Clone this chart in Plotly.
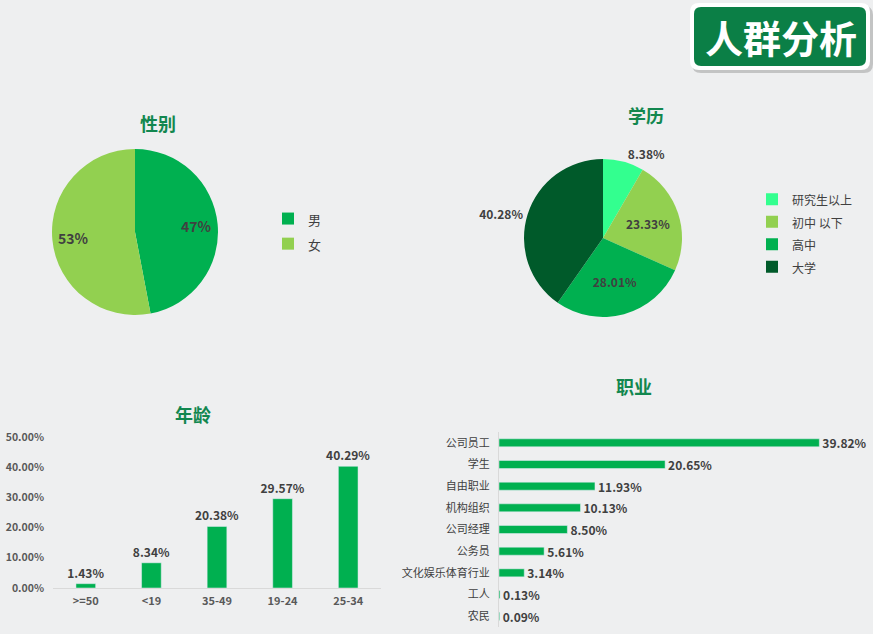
import math
import plotly.graph_objects as go

# ---------------- data ----------------
gender_labels = ["男", "女"]
gender_values = [47, 53]
gender_colors = ["#00b050", "#92d050"]

edu_labels = ["研究生以上", "初中 以下", "高中", "大学"]
edu_values = [8.38, 23.33, 28.01, 40.28]
edu_colors = ["#33ff8f", "#92d050", "#00b050", "#005a2a"]

age_cats = [">=50", "<19", "35-49", "19-24", "25-34"]
age_values = [1.43, 8.34, 20.38, 29.57, 40.29]
age_ticks = [0, 10, 20, 30, 40, 50]

job_cats = ["公司员工", "学生", "自由职业", "机构组织", "公司经理", "公务员",
            "文化娱乐体育行业", "工人", "农民"]
job_values = [39.82, 20.65, 11.93, 10.13, 8.50, 5.61, 3.14, 0.13, 0.09]

# ---------------- layout helpers ----------------
W, H = 873, 634
FONT = "Microsoft YaHei, Noto Sans CJK SC, sans-serif"
TXT = "#404040"
TITLE_GREEN = "#12874f"


def px(x):
    return x / W


def py(y):
    return 1 - y / H


def legend_label(s, size):
    return f"<span style='font-size:{size}px'>{s}</span>"


fig = go.Figure()
annotations = []

# gender pie
gcx, gcy, gr = 135, 232, 83
fig.add_trace(go.Pie(
    labels=[legend_label(s, 13) for s in gender_labels],
    values=gender_values,
    marker=dict(colors=gender_colors, line=dict(width=0)),
    sort=False, direction="clockwise", rotation=0,
    textinfo="none", automargin=False,
    domain=dict(x=[px(gcx - gr), px(gcx + gr)], y=[py(gcy + gr), py(gcy - gr)]),
    legend="legend", hoverinfo="skip",
))
# gender slice labels, placed at each slice's mid-angle
total = sum(gender_values)
cum = 0
for v in gender_values:
    mid = (cum + v / 2) / total * 2 * math.pi
    cum += v
    lx = gcx + 0.75 * gr * math.sin(mid)
    ly = gcy - 0.75 * gr * math.cos(mid)
    annotations.append(dict(text=f"<b>{v}%</b>", x=px(lx), y=py(ly), xref="paper", yref="paper",
                            xanchor="center", yanchor="middle", showarrow=False,
                            font=dict(size=14, color=TXT, family=FONT)))

# education pie
cx, cy, r = 603, 238, 79
fig.add_trace(go.Pie(
    labels=[legend_label(s, 12) for s in edu_labels],
    values=edu_values,
    marker=dict(colors=edu_colors, line=dict(width=0)),
    sort=False, direction="clockwise", rotation=0,
    texttemplate="%{value:.2f}%",
    textposition=["outside", "inside", "inside", "outside"],
    insidetextorientation="horizontal", automargin=False,
    textfont=dict(size=12, color=TXT, family=FONT, weight="bold"),
    domain=dict(x=[px(cx - r), px(cx + r)], y=[py(cy + r), py(cy - r)]),
    legend="legend2", hoverinfo="skip",
))

# age bars
fig.add_trace(go.Bar(
    x=age_cats, y=age_values, width=0.3,
    marker=dict(color="#00b050"),
    texttemplate="%{y:.2f}%", textposition="outside", cliponaxis=False,
    constraintext="none",
    textfont=dict(size=12, color=TXT, family=FONT, weight="bold"),
    xaxis="x", yaxis="y", showlegend=False, hoverinfo="skip",
))

# job bars
fig.add_trace(go.Bar(
    y=job_cats, x=job_values, orientation="h", width=0.37,
    marker=dict(color="#00b050"),
    texttemplate="%{x:.2f}%", textposition="outside", cliponaxis=False,
    constraintext="none",
    textfont=dict(size=12, color=TXT, family=FONT, weight="bold"),
    xaxis="x2", yaxis="y2", showlegend=False, hoverinfo="skip",
))


# title box (rounded rectangle)
def rounded(x0, y0, x1, y1, rr):
    X0, X1 = px(x0), px(x1)
    Y0, Y1 = py(y0), py(y1)
    rx, ry = rr / W, rr / H
    return (f"M {X0+rx},{Y0} L {X1-rx},{Y0} Q {X1},{Y0} {X1},{Y0-ry} "
            f"L {X1},{Y1+ry} Q {X1},{Y1} {X1-rx},{Y1} L {X0+rx},{Y1} "
            f"Q {X0},{Y1} {X0},{Y1+ry} L {X0},{Y0-ry} Q {X0},{Y0} {X0+rx},{Y0} Z")


shapes = [
    dict(type="path", xref="paper", yref="paper", path=rounded(692, 6, 873, 73, 9),
         fillcolor="rgba(0,0,0,0.18)", line=dict(width=0), layer="above"),
    dict(type="path", xref="paper", yref="paper", path=rounded(690, 3, 870, 70, 9),
         fillcolor="#ffffff", line=dict(width=0), layer="above"),
    dict(type="path", xref="paper", yref="paper", path=rounded(694, 7, 866, 66, 7),
         fillcolor="#0b7f46", line=dict(width=0), layer="above"),
]

annotations.append(dict(text="<b>人群分析</b>", x=px(781), y=py(37), xref="paper", yref="paper",
                        xanchor="center", yanchor="middle", showarrow=False,
                        font=dict(size=38, color="white", family=FONT)))
for t, x, y in [("性别", 158, 123), ("学历", 646, 115), ("年龄", 193, 414), ("职业", 634, 386)]:
    annotations.append(dict(text=f"<b>{t}</b>", x=px(x), y=py(y), xref="paper", yref="paper",
                            xanchor="center", yanchor="middle", showarrow=False,
                            font=dict(size=18, color=TITLE_GREEN, family=FONT)))

fig.update_layout(
    width=W, height=H, margin=dict(l=0, r=0, t=0, b=0, autoexpand=False),
    paper_bgcolor="#eeeff0", plot_bgcolor="rgba(0,0,0,0)",
    font=dict(family=FONT, color=TXT),
    shapes=shapes, annotations=annotations,
    legend=dict(x=px(268), y=py(201), xanchor="left", yanchor="top",
                font=dict(size=17, color=TXT, family=FONT), bgcolor="rgba(0,0,0,0)"),
    legend2=dict(x=px(752), y=py(183), xanchor="left", yanchor="top",
                 font=dict(size=15, color=TXT, family=FONT), bgcolor="rgba(0,0,0,0)"),
    xaxis=dict(domain=[px(53), px(381)], anchor="y", showline=True, linecolor="#d9d9d9",
               linewidth=1, ticks="", showgrid=False, zeroline=False, ticklabelstandoff=3,
               automargin=False,
               tickfont=dict(size=11, color="#595959", family=FONT, weight="bold")),
    yaxis=dict(domain=[py(588), py(437)], anchor="x", range=[0, 50], tickvals=age_ticks,
               ticktext=[f"{v:.2f}%" for v in age_ticks], showgrid=False, zeroline=False,
               showline=False, ticks="", ticklabelstandoff=8, automargin=False,
               tickfont=dict(size=10.5, color="#595959", family=FONT, weight="bold")),
    xaxis2=dict(domain=[px(499), px(861)], anchor="y2", range=[0, 45], visible=False,
                automargin=False),
    yaxis2=dict(domain=[py(627), py(432)], anchor="x2", categoryorder="array",
                categoryarray=job_cats, autorange="reversed", showline=True,
                linecolor="#d9d9d9", linewidth=1, ticks="", showgrid=False,
                zeroline=False, ticklabelstandoff=6, automargin=False,
                tickfont=dict(size=11, color=TXT, family=FONT)),
)

fig.write_html("out.html", config={"displayModeBar": False},
               post_script="document.body.style.margin='0px';")
